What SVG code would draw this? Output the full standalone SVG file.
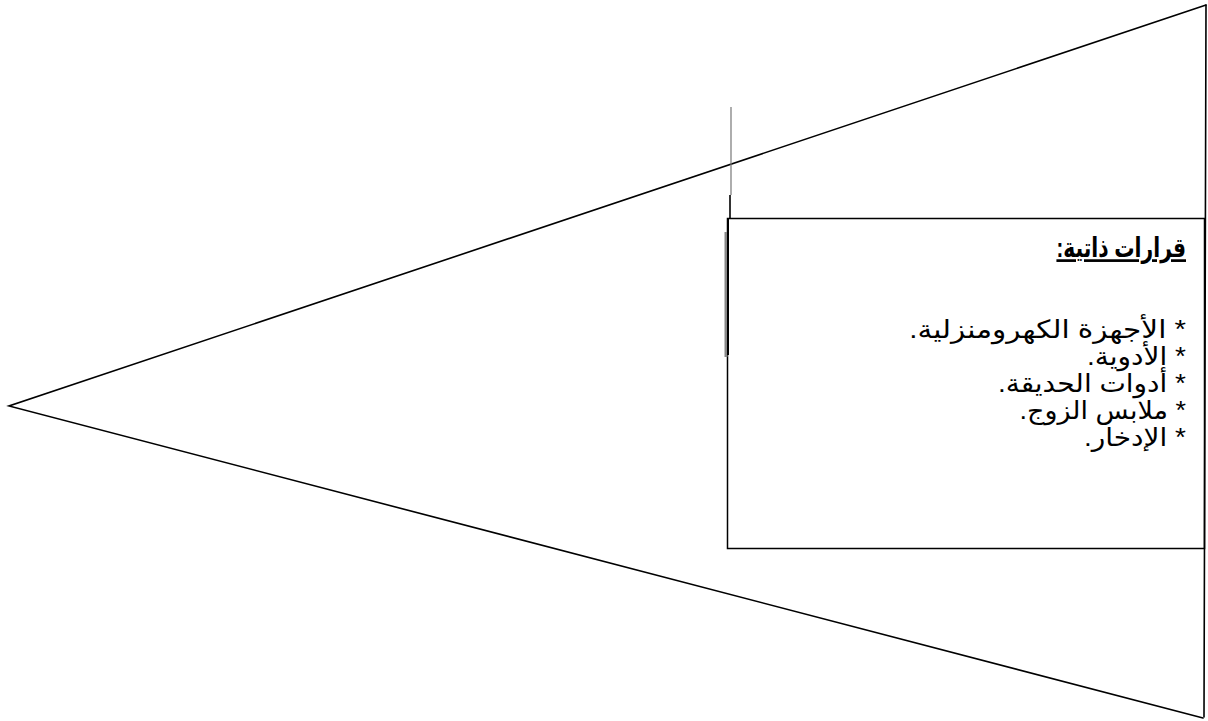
<svg xmlns="http://www.w3.org/2000/svg" width="1208" height="721" viewBox="0 0 1208 721">
<style>
.ln{stroke:#000;stroke-width:1.6;fill:none;stroke-linecap:round}
.txt{font-family:"Liberation Sans","DejaVu Sans","Noto Sans",sans-serif;font-size:25px;fill:#000}
.ttl{font-weight:bold;font-size:27px}
</style>
<rect width="1208" height="721" fill="#fff"/>
<g id="connectors">
<path class="ln" d="M1206,5 L9,406 L1203,718"/>
<path class="ln" d="M1206,5 L1204,717"/>
<line x1="731" y1="107" x2="731" y2="195" stroke="#777" stroke-width="1.2"/>
<line x1="730" y1="195" x2="730" y2="218" stroke="#000" stroke-width="1.6"/>
</g>
<g id="box">
<rect x="727.5" y="218.5" width="477" height="330" fill="none" stroke="#000" stroke-width="1.5"/>
<line x1="726" y1="232" x2="726" y2="357" stroke="#888" stroke-width="3"/>
<line x1="728" y1="218" x2="728" y2="355" stroke="#000" stroke-width="2"/>
<text class="txt ttl" transform="translate(1186,257) scale(0.75,1)" direction="rtl" text-anchor="start" text-decoration="underline">قرارات ذاتية:</text>
<text class="txt" transform="translate(1186,338) scale(1.18,1)" direction="rtl" text-anchor="start">* الأجهزة الكهرومنزلية.</text>
<text class="txt" transform="translate(1186,365) scale(1.12,1)" direction="rtl" text-anchor="start">* الأدوية.</text>
<text class="txt" transform="translate(1186,392) scale(1.12,1)" direction="rtl" text-anchor="start">* أدوات الحديقة.</text>
<text class="txt" transform="translate(1186,419) scale(1.08,1)" direction="rtl" text-anchor="start">* ملابس الزوج.</text>
<text class="txt" transform="translate(1186,446) scale(1.12,1)" direction="rtl" text-anchor="start">* الإدخار.</text>
</g>
</svg>
